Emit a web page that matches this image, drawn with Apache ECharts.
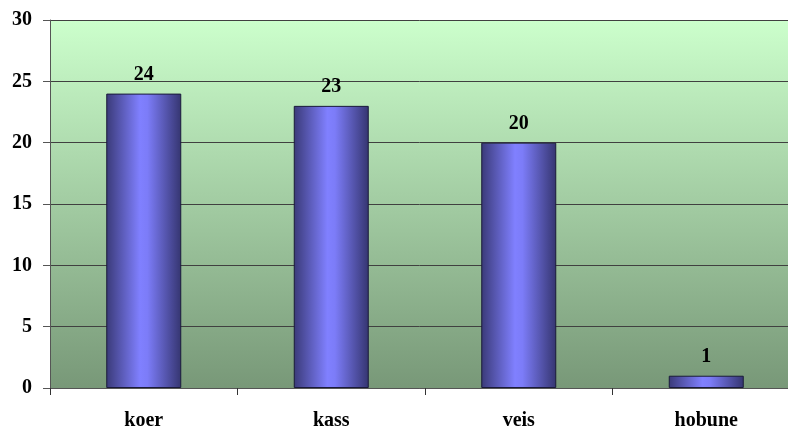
<!DOCTYPE html>
<html>
<head>
<meta charset="utf-8">
<script src="https://cdn.jsdelivr.net/npm/echarts@6/dist/echarts.min.js"></script>
<style>
  html, body { margin: 0; padding: 0; background: #ffffff; }
  #chart { width: 788px; height: 432px; overflow: hidden; }
</style>
</head>
<body>
<div id="chart"></div>
<script>
// Animal counts
const categories = ['koer', 'kass', 'veis', 'hobune'];
const counts = [24, 23, 20, 1];
const yTicks = [0, 5, 10, 15, 20, 25, 30];

const chart = echarts.init(document.getElementById('chart'), null, { renderer: 'canvas' });

const font = '"Liberation Serif", "Times New Roman", serif';

const barFill = new echarts.graphic.LinearGradient(0, 0, 1, 0, [
  { offset: 0, color: '#3a3a78' },
  { offset: 0.45, color: '#8080ff' },
  { offset: 0.55, color: '#7c7cf8' },
  { offset: 1, color: '#353570' }
]);

chart.setOption({
  animation: false,
  grid: {
    left: 50, width: 750, top: 20, bottom: 44,
    outerBoundsMode: 'none',
    containLabel: false,
    show: true,
    borderWidth: 0,
    backgroundColor: new echarts.graphic.LinearGradient(0, 0, 0, 1, [
      { offset: 0, color: '#ccffcc' },
      { offset: 1, color: '#789878' }
    ])
  },
  xAxis: {
    type: 'category',
    data: categories,
    axisLine: { show: true, lineStyle: { color: '#555', width: 1 } },
    axisTick: { show: true, length: 7, lineStyle: { color: '#333' } },
    axisLabel: {
      color: '#000', fontFamily: font, fontWeight: 'bold', fontSize: 20,
      margin: 23
    }
  },
  yAxis: {
    type: 'value',
    min: yTicks[0],
    max: yTicks[yTicks.length - 1],
    interval: 5,
    axisLine: { show: true, lineStyle: { color: '#555', width: 1 } },
    axisTick: { show: true, length: 7, lineStyle: { color: '#555' } },
    splitLine: { show: true, lineStyle: { color: '#404040', width: 1 } },
    axisLabel: {
      color: '#000', fontFamily: font, fontWeight: 'bold', fontSize: 20,
      margin: 18
    }
  },
  series: [{
    type: 'bar',
    data: counts,
    barWidth: '40%',
    itemStyle: { color: barFill, borderColor: '#1a1a3a', borderWidth: 1 },
    label: {
      show: true, position: 'top', distance: 9,
      color: '#000', fontFamily: font, fontWeight: 'bold', fontSize: 20
    }
  }]
});
</script>
</body>
</html>
